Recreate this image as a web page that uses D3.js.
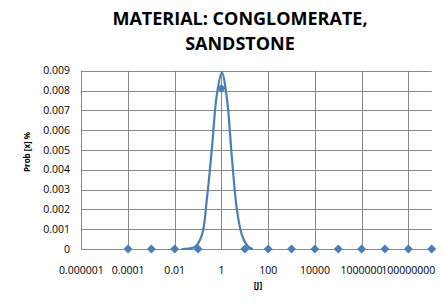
<!DOCTYPE html>
<html>
<head>
<meta charset="utf-8">
<script src="https://cdn.jsdelivr.net/npm/d3@7"></script>
<style>
  body { margin: 0; background: #fff; }
  svg { display: block; font-family: "Open Sans", sans-serif; }
</style>
</head>
<body>
<div id="chart"></div>
<script>
// marker series (decades) and the smoothed density curve
var markerX = [1e-4, 1e-3, 1e-2, 1e-1, 1, 10, 100, 1e3, 1e4, 1e5, 1e6, 1e7, 1e8, 1e9];
var markerY = [0, 0, 0, 0, 0.0081, 0, 0, 0, 0, 0, 0, 0, 0, 0];
var curveX = [0.02, 0.075, 0.145, 0.24, 0.39, 0.63, 1.04, 1.7, 2.8, 4.5, 7.5, 14, 22];
var curveY = [0, 0.00012, 0.0007, 0.00257, 0.00509, 0.00777, 0.00891, 0.00763, 0.0046, 0.00207, 0.00071, 0.00012, 0];
var xTicks = [1e-6, 1e-4, 1e-2, 1, 100, 1e4, 1e6, 1e8];
var xTickLabels = ["0.000001", "0.0001", "0.01", "1", "100", "10000", "1000000", "100000000"];
var yTicks = [0, 0.001, 0.002, 0.003, 0.004, 0.005, 0.006, 0.007, 0.008, 0.009];

var width = 443, height = 305,
	plotLeft = 81.3, plotRight = 431.7, plotTop = 70.7, plotBottom = 249,
	blue = "#4a7ebb", grid = "#898989";

var svg = d3.select("#chart").append("svg")
	.attr("width", width)
	.attr("height", height);

var x = d3.scaleLog().domain([1e-6, 1e9]).range([plotLeft, plotRight]);
var y = d3.scaleLinear().domain([0, 0.009]).range([plotBottom, plotTop]);

// title
var title = svg.append("text")
	.attr("text-anchor", "middle")
	.attr("font-weight", "bold")
	.attr("font-size", 18)
	.attr("fill", "#000");
title.append("tspan").attr("x", 240).attr("y", 25).text("MATERIAL: CONGLOMERATE,");
title.append("tspan").attr("x", 240).attr("y", 50).text("SANDSTONE");

// horizontal gridlines
svg.append("g").selectAll("line")
	.data(yTicks.slice(1))
	.enter().append("line")
	.attr("x1", plotLeft).attr("x2", plotRight)
	.attr("y1", function(d){ return Math.round(y(d)) + 0.5; })
	.attr("y2", function(d){ return Math.round(y(d)) + 0.5; })
	.attr("stroke", grid).attr("stroke-width", 1);

// vertical gridlines
svg.append("g").selectAll("line")
	.data(xTicks.slice(1))
	.enter().append("line")
	.attr("x1", function(d){ return Math.round(x(d)) + 0.5; })
	.attr("x2", function(d){ return Math.round(x(d)) + 0.5; })
	.attr("y1", plotTop).attr("y2", plotBottom)
	.attr("stroke", grid).attr("stroke-width", 1);

// axes lines
svg.append("line")
	.attr("x1", Math.round(plotLeft) + 0.5).attr("x2", Math.round(plotLeft) + 0.5)
	.attr("y1", plotTop).attr("y2", plotBottom)
	.attr("stroke", grid);
svg.append("line")
	.attr("x1", plotLeft).attr("x2", plotRight)
	.attr("y1", Math.round(plotBottom) + 0.5).attr("y2", Math.round(plotBottom) + 0.5)
	.attr("stroke", grid);

// y tick labels
svg.append("g").selectAll("text")
	.data(yTicks)
	.enter().append("text")
	.attr("x", 70)
	.attr("y", function(d){ return y(d) + 3.7; })
	.attr("text-anchor", "end")
	.attr("font-size", 10.5)
	.attr("fill", "#000")
	.text(function(d){ return d === 0 ? "0" : d3.format(".3f")(d); });

// x tick labels
svg.append("g").selectAll("text")
	.data(xTicks)
	.enter().append("text")
	.attr("x", function(d){ return x(d); })
	.attr("y", 274)
	.attr("text-anchor", "middle")
	.attr("font-size", 10.5)
	.attr("fill", "#000")
	.text(function(d,i){ return xTickLabels[i]; });

// axis titles
svg.append("text")
	.attr("x", 258).attr("y", 288)
	.attr("text-anchor", "middle")
	.attr("font-weight", "bold")
	.attr("font-size", 8.5)
	.text("[J]");
svg.append("text")
	.attr("transform", "translate(30,152) rotate(-90)")
	.attr("text-anchor", "middle")
	.attr("font-weight", "bold")
	.attr("font-size", 8)
	.text("Prob [x] %");

// smoothed curve
var curvePts = curveX.map(function(d,i){ return [d, curveY[i]]; });
var line = d3.line()
	.x(function(d){ return x(d[0]); })
	.y(function(d){ return y(d[1]); })
	.curve(d3.curveCatmullRom.alpha(0.5));
svg.append("path")
	.datum(curvePts)
	.attr("d", line)
	.attr("fill", "none")
	.attr("stroke", blue)
	.attr("stroke-width", 2.2);

// diamond markers
var markerPts = markerX.map(function(d,i){ return [d, markerY[i]]; });
svg.append("g").selectAll("path")
	.data(markerPts)
	.enter().append("path")
	.attr("d", d3.symbol().type(d3.symbolSquare).size(40))
	.attr("transform", function(d){ return "translate(" + x(d[0]) + "," + y(d[1]) + ") rotate(45)"; })
	.attr("fill", blue);
</script>
</body>
</html>
